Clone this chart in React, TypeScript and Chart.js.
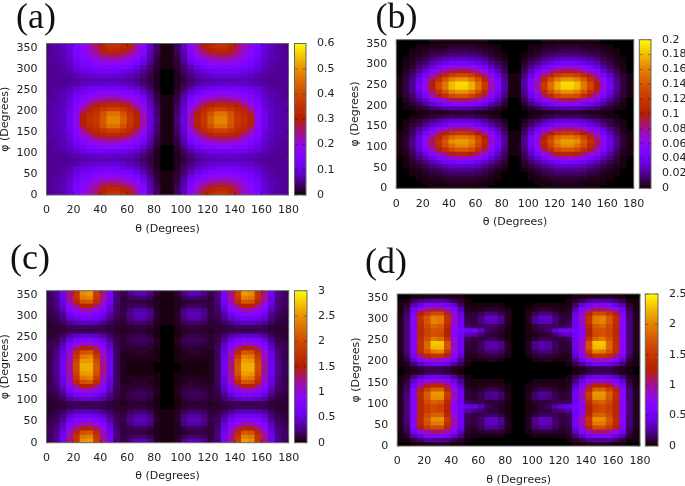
import React, { useEffect, useRef } from "react";
import { Chart, registerables } from "chart.js";

Chart.register(...registerables);

// Every grid value is a percentage of its panel's colour-bar maximum.
// Columns run over θ = 2.5 … 87.5 (the right half of each panel mirrors them about θ = 90).
const PANEL_A_ROWS = [
  [10,11,13,17,24,30,36,44,52,58,58,54,50,38,28,14,6,1],
  [10,11,13,17,24,29,35,42,50,54,54,51,46,36,27,13,6,1],
  [10,11,13,16,23,27,33,39,44,47,46,44,39,32,24,12,5,1],
  [10,11,12,15,21,25,29,34,37,38,38,36,32,27,21,11,4,1],
  [10,10,12,14,19,23,26,29,31,32,31,29,27,23,17,9,3,1],
  [10,10,11,13,17,20,22,24,25,26,25,24,22,18,13,7,3,1],
  [10,10,11,12,15,17,18,20,20,20,20,18,17,14,10,6,2,0],
  [10,10,10,11,12,14,15,16,16,16,16,15,13,11,8,5,2,0],
  [10,10,10,10,11,12,13,13,13,13,13,12,11,9,7,4,2,0],
  [10,10,10,11,12,13,14,14,15,15,14,14,13,11,8,5,2,0],
  [10,10,11,13,15,17,19,20,20,20,20,19,17,15,11,6,2,0],
  [10,11,12,14,18,21,24,25,27,27,27,25,24,20,15,9,3,0],
  [10,11,12,15,21,25,29,32,34,35,34,32,30,26,20,11,4,1],
  [11,11,13,16,23,28,34,40,43,44,44,42,37,31,24,13,5,1],
  [11,12,13,17,25,33,42,50,53,55,55,52,46,36,28,14,6,1],
  [11,12,14,18,27,40,52,55,60,64,64,60,55,44,32,16,7,1],
  [11,12,14,19,29,47,55,58,68,76,76,68,58,50,36,17,7,1],
  [11,12,14,20,30,50,56,60,70,80,80,72,60,52,38,18,8,1],
];

const PANEL_B_ROWS = [
  [0,0,0,0,0,1,1,1,1,1,1,1,1,1,0,0,0,0],
  [0,0,0,0,1,1,1,1,2,2,2,2,1,1,1,0,0,0],
  [0,0,0,1,1,2,2,3,3,3,3,3,3,2,1,1,0,0],
  [0,0,1,1,2,3,4,5,6,6,6,6,5,4,2,1,0,0],
  [0,0,1,2,3,5,6,8,9,9,9,9,7,6,4,2,1,0],
  [0,1,2,3,5,8,10,12,14,14,14,14,12,9,6,4,2,0],
  [0,1,3,5,8,13,16,20,22,24,24,22,19,15,11,7,3,0],
  [0,1,4,8,12,19,24,29,34,36,36,34,29,23,16,10,5,0],
  [1,2,6,11,18,28,36,43,50,53,53,50,42,33,23,14,6,1],
  [1,2,7,15,24,37,48,57,66,70,70,66,56,44,29,18,8,1],
  [1,3,9,17,28,43,55,67,76,81,81,76,65,51,33,22,9,1],
  [1,3,9,18,29,45,58,70,82,85,85,80,68,54,35,23,10,1],
  [1,3,8,17,27,41,53,64,74,78,78,74,63,50,32,21,9,1],
  [1,2,6,13,21,32,42,50,58,61,61,58,49,39,26,16,7,1],
  [0,2,5,9,15,23,29,35,40,43,43,40,34,27,19,12,5,0],
  [0,1,3,5,9,14,17,21,24,26,26,24,20,16,11,7,3,0],
  [0,1,2,4,6,9,12,14,16,17,17,16,14,11,7,5,2,0],
  [0,0,1,1,2,3,4,5,6,6,6,6,5,4,2,1,0,0],
  [0,0,0,1,1,2,2,2,3,3,3,3,2,2,1,1,0,0],
  [0,1,1,3,4,7,8,10,12,12,12,11,10,8,5,3,1,0],
  [0,1,3,6,10,15,20,23,27,28,28,26,23,18,12,8,3,0],
  [0,2,5,10,15,24,31,37,43,45,45,42,36,29,20,13,5,0],
  [1,3,7,14,23,36,47,56,65,68,68,63,55,43,28,18,8,1],
  [1,4,9,18,28,44,57,69,79,83,83,77,67,53,34,23,10,1],
  [1,4,10,20,32,50,65,78,90,94,94,88,76,60,38,26,11,1],
  [1,4,10,20,32,50,65,78,90,95,95,88,76,60,38,26,11,1],
  [1,4,9,18,28,44,57,69,79,83,83,77,67,53,34,23,10,1],
  [1,3,7,14,22,35,46,55,63,66,66,62,53,42,28,18,8,1],
  [0,2,5,10,16,25,33,39,45,47,47,44,38,30,21,13,6,0],
  [0,1,3,7,11,17,22,27,31,32,32,30,26,20,14,9,4,0],
  [0,1,2,5,7,12,15,18,21,22,22,20,17,14,9,6,3,0],
  [0,1,2,3,5,8,10,12,14,14,14,13,11,9,5,3,1,0],
  [0,0,1,2,3,5,6,7,8,8,8,8,7,5,3,2,1,0],
  [0,0,1,1,2,3,3,4,5,5,5,4,4,3,2,1,0,0],
  [0,0,0,1,1,2,2,2,3,3,3,3,2,2,1,1,0,0],
  [0,0,0,0,0,1,1,1,1,1,1,1,1,1,0,0,0,0],
];

const PANEL_C_ROWS = [
  [6,9,20,42,58,82,85,62,42,22,8,5,9,13,13,9,3,1],
  [6,9,19,40,58,78,80,60,40,22,8,4,6,7,7,5,2,1],
  [6,8,18,36,53,68,70,55,37,20,8,4,4,4,4,3,2,1],
  [6,8,16,30,42,50,52,43,32,18,7,4,5,6,6,4,2,1],
  [5,7,13,25,32,37,38,32,25,15,7,4,8,11,11,8,2,1],
  [5,6,10,20,26,28,28,25,20,12,6,5,9,13,13,9,3,1],
  [4,5,8,15,19,20,20,19,15,9,5,4,8,11,11,8,2,1],
  [3,4,6,10,12,13,13,12,9,6,4,3,6,7,7,5,2,1],
  [3,3,4,5,6,6,6,6,5,4,3,3,3,4,4,3,1,0],
  [3,3,4,5,5,5,5,5,5,4,3,2,3,3,3,2,1,0],
  [3,4,6,11,14,15,15,14,11,7,4,3,4,5,5,3,1,0],
  [4,5,9,17,22,24,24,22,17,10,5,3,5,6,6,5,2,0],
  [5,6,12,23,30,35,35,30,23,13,5,3,4,5,5,4,2,0],
  [5,7,15,28,42,50,50,42,28,15,6,3,3,3,3,3,1,0],
  [5,8,17,33,55,68,70,55,35,17,6,2,2,3,3,2,1,0],
  [5,8,18,36,60,78,80,62,38,19,6,2,2,2,2,2,1,0],
  [5,9,19,38,64,84,85,68,40,20,6,2,1,1,1,1,1,0],
  [5,9,20,40,66,88,88,70,42,20,6,2,1,1,1,1,0,0],
];

const PANEL_D_ROWS = [
  [0,0,1,1,2,2,2,2,1,1,0,0,0,0,0,0,0,0],
  [1,1,4,7,10,10,10,9,5,3,1,0,0,0,0,0,0,0],
  [1,3,12,18,24,26,26,22,15,8,2,1,1,1,1,1,0,0],
  [1,5,20,32,40,44,44,36,27,14,3,2,3,4,4,3,1,0],
  [2,7,26,50,60,66,66,52,32,19,4,3,6,10,10,7,2,0],
  [2,8,28,54,68,78,78,58,38,21,5,4,7,13,13,9,2,0],
  [2,8,28,55,70,82,82,60,38,21,5,4,7,13,14,9,2,0],
  [2,8,28,54,66,72,72,54,34,20,6,4,5,6,6,4,1,0],
  [2,8,28,53,62,66,64,50,28,21,12,9,7,4,4,2,1,0],
  [2,8,28,53,62,66,62,50,27,22,18,17,12,6,4,2,1,0],
  [2,8,28,54,66,72,70,54,34,20,6,5,5,4,4,3,1,0],
  [2,8,28,55,70,82,82,60,37,20,4,3,5,8,9,6,2,0],
  [2,8,28,56,72,84,84,62,37,20,4,3,5,9,10,7,2,0],
  [2,7,27,52,62,72,72,54,32,18,3,2,3,5,5,3,1,0],
  [1,5,21,36,48,53,52,43,26,13,2,1,2,2,2,2,1,0],
  [1,4,15,26,32,34,34,28,19,9,2,1,1,1,1,1,0,0],
  [1,2,8,14,18,20,20,17,10,5,1,0,0,0,0,0,0,0],
  [0,1,2,3,5,5,5,4,2,1,0,0,0,0,0,0,0,0],
  [0,1,2,3,5,5,5,4,2,1,0,0,0,0,0,0,0,0],
  [1,2,8,14,18,20,20,17,10,5,1,0,0,0,0,0,0,0],
  [1,4,15,27,35,37,37,30,21,10,2,1,1,2,2,1,0,0],
  [1,6,22,42,55,58,58,48,29,15,2,2,3,4,4,3,1,0],
  [2,8,28,56,68,78,80,60,34,19,3,3,5,8,8,6,2,0],
  [2,8,28,57,74,90,90,68,36,20,4,3,6,11,12,9,2,0],
  [2,8,28,57,74,92,92,68,36,20,4,3,6,11,12,9,2,0],
  [2,8,28,56,68,78,74,58,32,19,6,4,4,5,5,3,1,0],
  [2,8,28,54,64,68,66,50,27,21,14,12,7,4,3,2,1,0],
  [2,8,28,54,64,68,68,50,28,23,21,21,15,7,5,3,1,0],
  [2,8,28,55,66,74,70,54,32,20,7,5,6,7,6,4,1,0],
  [2,8,28,56,70,80,78,58,36,20,5,4,8,13,13,9,2,0],
  [2,8,28,56,70,80,78,58,36,20,4,4,8,14,14,9,2,0],
  [2,7,26,50,60,66,66,52,32,17,3,3,5,8,8,5,2,0],
  [1,5,20,32,40,44,44,36,26,12,2,1,2,3,3,2,1,0],
  [1,3,12,18,24,26,26,22,15,7,1,1,1,1,1,1,0,0],
  [1,1,5,8,10,11,11,9,5,3,1,0,0,0,0,0,0,0],
  [0,0,1,1,2,2,2,2,1,1,0,0,0,0,0,0,0,0],
];

const THETA_STEP = 5;
const PHI_STEP = 10;
const THETA_TITLE = "θ (Degrees)";
const PHI_TITLE = "φ (Degrees)";
const AXIS_FONT = "'DejaVu Sans', sans-serif";
const INK = "#222";
const FRAME = "#666";

// panels a and c repeat about φ = 180: only the lower half is listed for them
const mirrorPhi = (rows: number[][]) => [...rows, ...[...rows].reverse()];
const mirrorTheta = (row: number[]) => [...row, ...[...row].reverse()];

const PANELS = [
  { label: "(a)", rows: mirrorPhi(PANEL_A_ROWS), max: 0.6, step: 0.1, l: 46.5, r: 288.5, t: 43.5, b: 195, cl: 294.5, cr: 306, lx: 16, ly: -6 },
  { label: "(b)", rows: PANEL_B_ROWS, max: 0.2, step: 0.02, l: 396.3, r: 633.7, t: 39.7, b: 188.3, cl: 639.3, cr: 651, lx: 375.5, ly: -6 },
  { label: "(c)", rows: mirrorPhi(PANEL_C_ROWS), max: 3, step: 0.5, l: 46.5, r: 288.7, t: 290.7, b: 442.7, cl: 294.5, cr: 307, lx: 10, ly: 235 },
  { label: "(d)", rows: PANEL_D_ROWS, max: 2.5, step: 0.5, l: 397.3, r: 640, t: 294, b: 446, cl: 645.3, cr: 658, lx: 365, ly: 239 },
];

// gnuplot's default pm3d palette (rgbformulae 7,5,15)
function palette(x: number) {
  const f = Math.min(1, Math.max(0, x));
  const red = Math.round(255 * Math.sqrt(f));
  const green = Math.round(255 * f * f * f);
  const blue = Math.round(255 * Math.max(0, Math.sin(2 * Math.PI * f)));
  return `rgb(${red},${green},${blue})`;
}

const frameAndTicks = {
  id: "frameAndTicks",
  afterDatasetsDraw(chart: any) {
    const { ctx, chartArea: a, scales } = chart;
    ctx.save();
    ctx.lineWidth = 0.8;
    ctx.strokeStyle = "rgba(0,0,0,0.45)";
    ctx.beginPath();
    const len = 3;
    if (scales.x && scales.x.type === "linear") {
      scales.x.ticks.forEach((t: any) => {
        const p = scales.x.getPixelForValue(t.value);
        ctx.moveTo(p, a.bottom); ctx.lineTo(p, a.bottom - len);
        ctx.moveTo(p, a.top); ctx.lineTo(p, a.top + len);
      });
    }
    scales.y.ticks.forEach((t: any) => {
      const p = scales.y.getPixelForValue(t.value);
      ctx.moveTo(a.left, p); ctx.lineTo(a.left + len, p);
      ctx.moveTo(a.right, p); ctx.lineTo(a.right - len, p);
    });
    ctx.stroke();
    ctx.strokeStyle = FRAME;
    ctx.lineWidth = 1;
    ctx.strokeRect(a.left, a.top, a.right - a.left, a.bottom - a.top);
    ctx.restore();
  },
};

const tickFont = { family: AXIS_FONT, size: 11 };
const numberLabel = (v: any) => String(+Number(v).toFixed(2));
const noGrid = { display: false, drawTicks: false, tickLength: 0 };

function heatChart(canvas: HTMLCanvasElement, p: any, box: any) {
  const cells: any[] = [];
  p.rows.forEach((row: number[], j: number) => {
    mirrorTheta(row).forEach((pct: number, i: number) => {
      cells.push({
        x: (i + 0.5) * THETA_STEP,
        y: [j * PHI_STEP, (j + 1) * PHI_STEP],
        v: (pct / 100) * p.max,
      });
    });
  });
  return new Chart(canvas, {
    type: "bar",
    data: {
      datasets: [{
        data: cells,
        categoryPercentage: 1,
        barPercentage: 1,
        borderWidth: 0,
        inflateAmount: 0.5,
        backgroundColor: (c: any) => (c.raw ? palette(c.raw.v / p.max) : "#000"),
      }],
    } as any,
    options: {
      animation: false,
      responsive: false,
      events: [],
      layout: { padding: { left: 0, top: box.padTop, right: box.padRight, bottom: box.padBottom } },
      plugins: { legend: { display: false }, tooltip: { enabled: false }, title: { display: false } },
      scales: {
        x: {
          type: "linear", min: 0, max: 180, offset: false,
          grid: noGrid, border: { display: false },
          ticks: { stepSize: 20, color: INK, font: tickFont, padding: 9, maxRotation: 0, autoSkip: false },
          title: { display: true, text: THETA_TITLE, color: INK, font: tickFont, padding: 0 },
          afterFit: (s: any) => { s.height = box.xGutter; },
        },
        y: {
          type: "linear", min: 0, max: 360,
          grid: noGrid, border: { display: false },
          ticks: { stepSize: 50, includeBounds: false, color: INK, font: tickFont, padding: 9, autoSkip: false },
          title: { display: true, text: PHI_TITLE, color: INK, font: tickFont, padding: 0 },
          afterFit: (s: any) => { s.width = box.yGutter; },
        },
      },
    } as any,
    plugins: [frameAndTicks],
  });
}

function barChart(canvas: HTMLCanvasElement, p: any, box: any) {
  return new Chart(canvas, {
    type: "bar",
    data: {
      labels: ["colour"],
      datasets: [{
        data: [[0, p.max]],
        categoryPercentage: 1,
        barPercentage: 1,
        borderWidth: 0,
        backgroundColor: (c: any) => {
          const a = c.chart.chartArea;
          if (!a) return "#000";
          const g = c.chart.ctx.createLinearGradient(0, a.bottom, 0, a.top);
          for (let i = 0; i <= 64; i++) g.addColorStop(i / 64, palette(i / 64));
          return g;
        },
      }],
    } as any,
    options: {
      animation: false,
      responsive: false,
      events: [],
      layout: { padding: { left: box.padLeft, top: box.padTop, right: 0, bottom: box.padBottom } },
      plugins: { legend: { display: false }, tooltip: { enabled: false }, title: { display: false } },
      scales: {
        x: { display: false },
        y: {
          type: "linear", position: "right", min: 0, max: p.max,
          grid: noGrid, border: { display: false },
          ticks: { stepSize: p.step, color: INK, font: tickFont, padding: 11, autoSkip: false, callback: numberLabel },
          afterFit: (s: any) => { s.width = box.gutter; },
        },
      },
    } as any,
    plugins: [frameAndTicks],
  });
}

function Panel({ p }: { p: any }) {
  const heatRef = useRef<HTMLCanvasElement>(null);
  const barRef = useRef<HTMLCanvasElement>(null);

  const hLeft = Math.floor(p.l - 47);
  const hTop = Math.floor(p.t - 22);
  const xGutter = 40.5;
  const hWidth = Math.ceil(p.r - hLeft + 22);
  const hHeight = Math.ceil(p.b - hTop + xGutter);
  const heatBox = {
    yGutter: p.l - hLeft,
    xGutter,
    padTop: p.t - hTop,
    padRight: hWidth - (p.r - hLeft),
    padBottom: hHeight - (p.b - hTop) - xGutter,
  };

  const bLeft = Math.floor(p.cl - 2);
  const bTop = Math.floor(p.t - 22);
  const gutter = 685 - p.cr;
  const bWidth = 685 - bLeft;
  const bHeight = Math.ceil(p.b - bTop + 22);
  const barBox = {
    padLeft: p.cl - bLeft,
    padTop: p.t - bTop,
    padBottom: bHeight - (p.b - bTop),
    gutter,
  };

  useEffect(() => {
    const heat = heatChart(heatRef.current!, p, heatBox);
    const bar = barChart(barRef.current!, p, barBox);
    return () => { heat.destroy(); bar.destroy(); };
  }, []);

  return (
    <>
      <canvas ref={heatRef} width={hWidth} height={hHeight}
        style={{ position: "absolute", left: hLeft, top: hTop, width: hWidth, height: hHeight }} />
      <canvas ref={barRef} width={bWidth} height={bHeight}
        style={{ position: "absolute", left: bLeft, top: bTop, width: bWidth, height: bHeight }} />
      <div style={{
        position: "absolute", left: p.lx, top: p.ly, color: "#111",
        fontFamily: "'Liberation Serif', serif", fontSize: 36, lineHeight: "44px", whiteSpace: "nowrap",
      }}>{p.label}</div>
    </>
  );
}

export default function App() {
  return (
    <div style={{ position: "fixed", left: 0, top: 0, width: 685, height: 486, overflow: "hidden", background: "#fff", filter: "blur(0.7px)" }}>
      {PANELS.map((p) => <Panel key={p.label} p={p} />)}
    </div>
  );
}
